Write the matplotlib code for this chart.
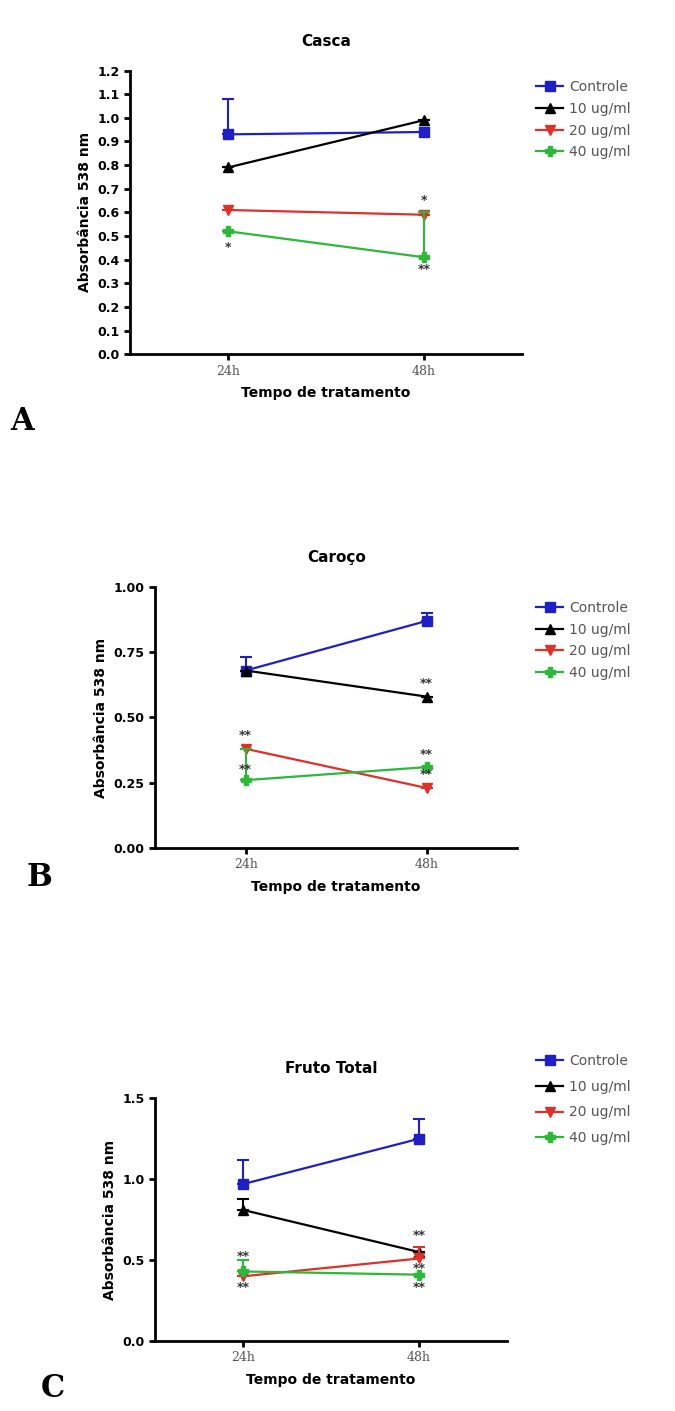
import matplotlib.pyplot as plt
import numpy as np

# time points and groups
times = ['24h', '48h']
groups = ['Controle', '10 ug/ml', '20 ug/ml', '40 ug/ml']
colors = ['#1f1fc8', 'black', '#e0302a', '#2db83a']
markers = ['s', '^', 'v', 'P']

# Casca
casca_mean = [[0.93, 0.94], [0.79, 0.99], [0.61, 0.59], [0.52, 0.41]]
casca_err = [[0.15, 0.0], [0.0, 0.0], [0.0, 0.0], [0.0, 0.19]]
casca_stars = [(0, 0.45, '*'), (1, 0.65, '*'), (1, 0.36, '**')]

# Caroço
caroco_mean = [[0.68, 0.87], [0.68, 0.58], [0.38, 0.23], [0.26, 0.31]]
caroco_err = [[0.05, 0.03], [0.0, 0.0], [0.0, 0.0], [0.12, 0.0]]
caroco_stars = [(0, 0.43, '**'), (0, 0.30, '**'), (1, 0.63, '**'),
                (1, 0.36, '**'), (1, 0.28, '**')]

# Fruto Total
fruto_mean = [[0.97, 1.25], [0.81, 0.55], [0.40, 0.51], [0.43, 0.41]]
fruto_err = [[0.15, 0.12], [0.07, 0.0], [0.0, 0.07], [0.07, 0.0]]
fruto_stars = [(0, 0.52, '**'), (0, 0.33, '**'), (1, 0.65, '**'),
               (1, 0.45, '**'), (1, 0.33, '**')]

panels = [
    ('Casca', casca_mean, casca_err, casca_stars, [0.193, 0.749, 0.580, 0.201],
     np.arange(0, 1.21, 0.1), '%.1f', (0, 1.2), 'A', (0.015, 0.695),
     (0.775, 0.952), 0.55),
    ('Caroço', caroco_mean, caroco_err, caroco_stars, [0.230, 0.399, 0.536, 0.185],
     np.arange(0, 1.01, 0.25), '%.2f', (0, 1.0), 'B', (0.04, 0.372),
     (0.775, 0.583), 0.55),
    ('Fruto Total', fruto_mean, fruto_err, fruto_stars, [0.230, 0.0496, 0.521, 0.172],
     np.arange(0, 1.51, 0.5), '%.1f', (0, 1.5), 'C', (0.06, 0.01),
     (0.775, 0.262), 0.85),
]

fig = plt.figure(figsize=(6.75, 14.11), dpi=100)

for title, mean, err, stars, pos, yt, fmt, ylim, letter, lpos, legpos, lsp in panels:
    ax = fig.add_axes(pos)
    x = np.arange(len(times))
    handles = []
    for g in range(len(groups)):
        ax.errorbar(x, mean[g], yerr=[np.zeros(2), err[g]], color=colors[g],
                    fmt='none', capsize=4, elinewidth=1.5, capthick=1.5)
        h, = ax.plot(x, mean[g], color=colors[g], marker=markers[g],
                     markersize=7, linewidth=1.6, label=groups[g])
        handles.append(h)
    for xi, yi, s in stars:
        ax.text(xi, yi, s, ha='center', va='center', fontsize=9,
                color='#333333', fontweight='bold')
    ax.set_xlim(-0.5, 1.5)
    ax.set_ylim(*ylim)
    ax.set_xticks(x)
    ax.set_xticklabels(times, family='DejaVu Serif', color='#555555', fontsize=9)
    ax.set_yticks(yt)
    ax.set_yticklabels([fmt % v for v in yt], fontweight='bold', fontsize=9)
    ax.spines['top'].set_visible(False)
    ax.spines['right'].set_visible(False)
    ax.spines['left'].set_linewidth(2)
    ax.spines['bottom'].set_linewidth(2)
    ax.tick_params(width=2, length=4)
    ax.set_title(title, fontweight='bold', fontsize=11, pad=18)
    ax.set_xlabel('Tempo de tratamento', fontweight='bold', fontsize=10, labelpad=6)
    ax.set_ylabel('Absorbância 538 nm', fontweight='bold', fontsize=10)
    leg = ax.legend(handles=handles, loc='upper left', bbox_to_anchor=legpos,
                    bbox_transform=fig.transFigure, frameon=False,
                    fontsize=10, handlelength=2.0, labelspacing=lsp,
                    handletextpad=0.4)
    for t in leg.get_texts():
        t.set_color('#555555')
    fig.text(lpos[0], lpos[1], letter, family='DejaVu Serif', fontweight='bold',
             fontsize=22)

fig.savefig('out.png', dpi=100)
